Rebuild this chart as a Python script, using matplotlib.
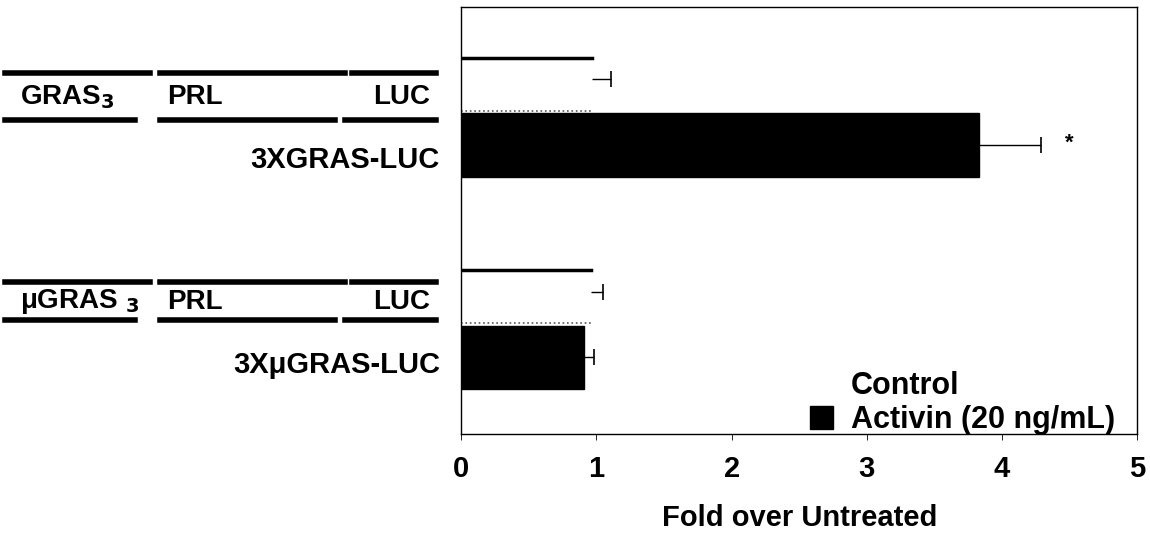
import numpy as np
import matplotlib.pyplot as plt
from matplotlib.lines import Line2D

plt.rcParams['font.family'] = ['Liberation Sans', 'DejaVu Sans']
plt.rcParams['font.weight'] = 'bold'

# data
constructs = ['3XGRAS-LUC', '3X\u03bcGRAS-LUC']
control = [0.97, 0.96]
control_err = [0.14, 0.09]
activin = [3.83, 0.91]
activin_err = [0.46, 0.07]
sig = ['*', '']

fig = plt.figure(figsize=(11.5, 5.35), dpi=100)
ax = fig.add_axes([0.401, 0.189, 0.588, 0.798])

pos = np.arange(len(constructs))
hc = 0.26
ha_ = 0.30
b1 = ax.barh(pos - hc / 2, control, height=hc, color='white', edgecolor='none',
             label='Control')
b2 = ax.barh(pos + ha_ / 2, activin, height=ha_, color='black', edgecolor='black',
             label='Activin (20 ng/mL)')

# one-sided error bars, cap only at the far end
for vals, errs, ys in [(control, control_err, pos - hc / 2 - 0.03),
                       (activin, activin_err, pos + ha_ / 2)]:
    ax.errorbar(vals, ys, xerr=[np.zeros(len(vals)), errs], fmt='none',
                ecolor='black', elinewidth=1, capsize=0)
    ax.plot(np.array(vals) + np.array(errs), ys, ls='none', marker='|',
            color='black', markersize=11, markeredgewidth=1.2)

# top edge of the white control bars (as in the scan)
for r in b1:
    ax.plot([r.get_x(), r.get_x() + r.get_width()], [r.get_y(), r.get_y()],
            color='black', lw=2.5)
    ax.plot([r.get_x(), r.get_x() + r.get_width()],
            [r.get_y() + r.get_height() - 0.01, r.get_y() + r.get_height() - 0.01],
            color='#555555', lw=1.2, ls=':')

for i, s in enumerate(sig):
    if s:
        ax.text(activin[i] + activin_err[i] + 0.21, pos[i] + ha_ / 2 - 0.01, s,
                ha='center', va='center', fontsize=16)

ax.set_xlim(0, 5)
ax.set_ylim(1.51, -0.5)
ax.set_yticks([])
ax.set_xticks(range(6))
ax.tick_params(axis='x', labelsize=21, length=4, width=0.6, pad=11)
for sp in ax.spines.values():
    sp.set_linewidth(1)
ax.set_xlabel('Fold over Untreated', fontsize=21, fontweight='bold', labelpad=15)

leg = ax.legend(loc='lower right', bbox_to_anchor=(0.985, -0.032), frameon=False,
                fontsize=22, handlelength=0.75, handleheight=0.75, handletextpad=0.6,
                borderaxespad=0.0, labelspacing=0.15)

# construct diagrams on the left
lax = fig.add_axes([0, 0, 0.4, 1])
lax.set_xlim(0, 460)
lax.set_ylim(535, 0)
lax.axis('off')

diagrams = [
    (73, 120, 'GRAS$_\\mathbf{3}$', 160),
    (282, 320, '\u03bcGRAS $_\\mathbf{3}$', 365),
]
for top, bot, first, lab_y in diagrams:
    for x0, x1 in [(5, 150), (160, 345), (352, 436)]:
        lax.add_line(Line2D([x0, x1], [top, top], color='black', lw=4))
    for x0, x1 in [(5, 135), (160, 335), (345, 436)]:
        lax.add_line(Line2D([x0, x1], [bot, bot], color='black', lw=4))
    mid = (top + bot) / 2 + 1
    lax.text(20, mid, first, ha='left', va='center', fontsize=20)
    lax.text(195, mid, 'PRL', ha='center', va='center', fontsize=20)
    lax.text(430, mid, 'LUC', ha='right', va='center', fontsize=20)

for (top, bot, first, lab_y), name in zip(diagrams, constructs):
    lax.text(440, lab_y, name, ha='right', va='center', fontsize=21)

fig.savefig('out.png', dpi=100)
